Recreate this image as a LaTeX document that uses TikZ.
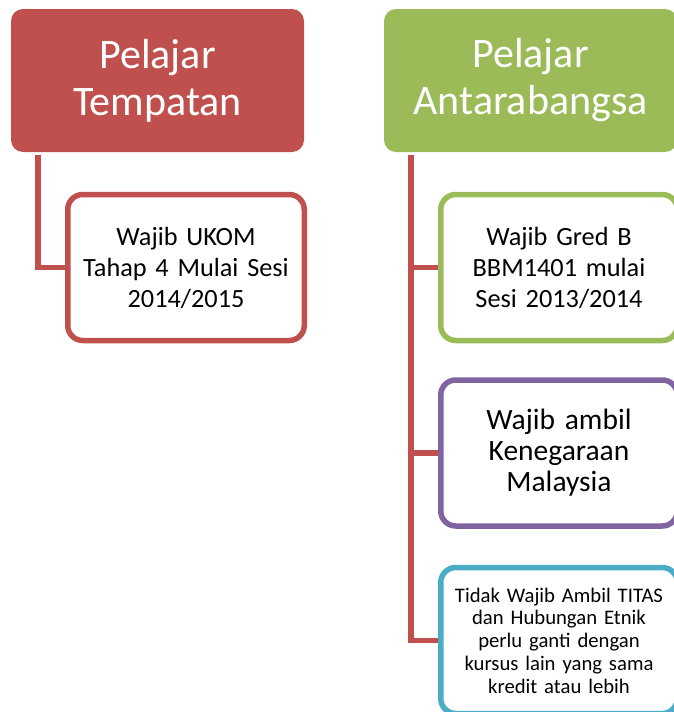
\documentclass[tikz,border=0pt]{standalone}
\usepackage{fontspec}
\setmainfont{Carlito}
\definecolor{cred}{HTML}{C0504D}
\definecolor{cgreen}{HTML}{9BBB59}
\definecolor{cpurple}{HTML}{8064A2}
\definecolor{ccyan}{HTML}{4BACC6}
\begin{document}
\begin{tikzpicture}[x=1pt,y=-1pt,
  header/.style={rectangle, rounded corners=12pt, minimum width=293pt, minimum height=143pt,
    inner sep=0pt, align=center, text=white, font=\fontsize{42}{47}\selectfont},
  child/.style={rectangle, draw=#1, fill=white, line width=5.5pt, rounded corners=15pt,
    minimum width=236.5pt, minimum height=146pt, inner sep=0pt, align=center, text width=230pt,
    font=\fontsize{26.3}{31}\selectfont},
  link/.style={draw=cred, line width=5.5pt}]
\useasboundingbox (0,0) rectangle (673,712);
\node[header, fill=cred] (h1) at (157.5,80.5) {Pelajar\\Tempatan};
\node[header, fill=cgreen] (h2) at (530.5,80.5) {Pelajar\\Antarabangsa};
\coordinate (t1) at ([xshift=27pt,yshift=-2.5pt]h1.south west);
\coordinate (t2) at ([xshift=27pt,yshift=-2.5pt]h2.south west);
\path (186,267.5) coordinate (p1) (559,267.5) coordinate (p2) (559,453) coordinate (p3) (559,640.5) coordinate (p4);
\path (p1) ++(-118.25,0) coordinate (w1);
\path (p2) ++(-118.25,0) coordinate (w2);
\path (p3) ++(-118.25,0) coordinate (w3);
\path (p4) ++(-118.25,0) coordinate (w4);
\draw[link] (t1) |- (w1);
\draw[link] (t2) |- (w2);
\draw[link] (t2) |- (w3);
\draw[link] (t2) |- (w4);
\node[child=cred] (c1) at (p1) {Wajib UKOM\\Tahap 4 Mulai Sesi\\2014/2015};
\node[child=cgreen] (g1) at (p2) {Wajib Gred B\\BBM1401 mulai\\Sesi 2013/2014};
\node[child=cpurple, font=\fontsize{29.5}{31}\selectfont] (g2) at (p3) {Wajib ambil\\Kenegaraan\\Malaysia};
\node[child=ccyan, font=\fontsize{20.7}{22.8}\selectfont] (g3) at (p4) {Tidak Wajib Ambil TITAS\\dan Hubungan Etnik\\perlu ganti dengan\\kursus lain yang sama\\kredit atau lebih};
\end{tikzpicture}
\end{document}
